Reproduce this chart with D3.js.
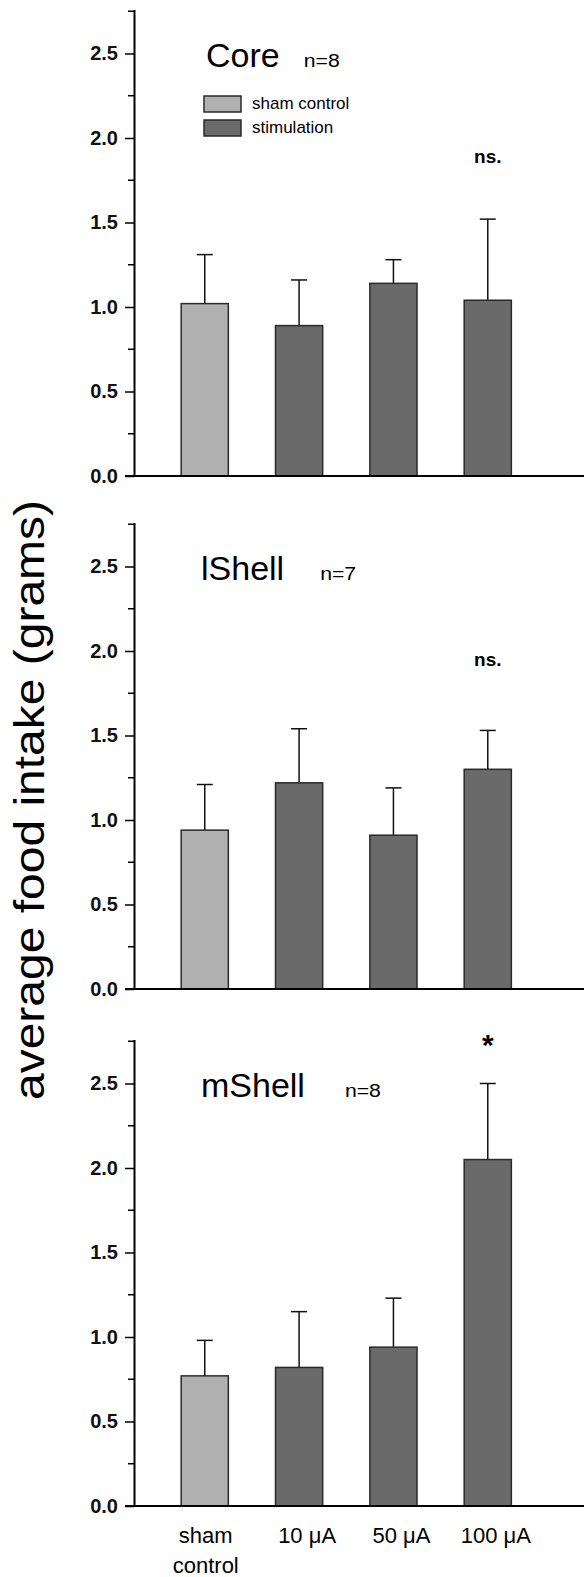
<!DOCTYPE html>
<html>
<head>
<meta charset="utf-8">
<script src="https://d3js.org/d3.v7.min.js"></script>
<style>
body { margin: 0; background: #fff; }
text { font-family: "Liberation Sans", Arial, sans-serif; }
</style>
</head>
<body>
<div id="chart"></div>
<script>
// data
var categories = ["sham control", "10 \u03bcA", "50 \u03bcA", "100 \u03bcA"];
var panelNames = ["Core", "lShell", "mShell"];
var panelN = ["n=8", "n=7", "n=8"];
var coreMean = [1.02, 0.89, 1.14, 1.04];
var coreSem = [0.29, 0.27, 0.14, 0.48];
var lShellMean = [0.94, 1.22, 0.91, 1.30];
var lShellSem = [0.27, 0.32, 0.28, 0.23];
var mShellMean = [0.77, 0.82, 0.94, 2.05];
var mShellSem = [0.21, 0.33, 0.29, 0.45];
var marks = ["ns.", "ns.", "*"];
var markY = [1.89, 1.95, 2.80];
var yTicks = [0, 0.5, 1.0, 1.5, 2.0, 2.5];
var legendLabels = ["sham control", "stimulation"];

var panels = [
  {name: panelNames[0], n: panelN[0], mean: coreMean, sem: coreSem, mark: marks[0], markY: markY[0], zero: 476, tx: 206, nGap: 24},
  {name: panelNames[1], n: panelN[1], mean: lShellMean, sem: lShellSem, mark: marks[1], markY: markY[1], zero: 989, tx: 201, nGap: 36},
  {name: panelNames[2], n: panelN[2], mean: mShellMean, sem: mShellSem, mark: marks[2], markY: markY[2], zero: 1506, tx: 201, nGap: 40}
];

var width = 584, height = 1577;
var unit = 169; // px per gram
var yMax = 2.76;
var colors = ["#b0b0b0", "#6a6a6a"];

var svg = d3.select("#chart")
  .append("svg")
    .attr("width", width)
    .attr("height", height);

// x positions: categories at 1..4
var x = d3.scaleLinear()
  .domain([0.25, 5.02])
  .range([134, 584]);
var barW = x(1.25) - x(0.75);

panels.forEach(function(p, pi) {
  var y = d3.scaleLinear()
    .domain([0, yMax])
    .range([p.zero, p.zero - yMax * unit]);

  var g = svg.append("g");

  // y axis with major labels
  var yAxis = d3.axisLeft(y)
    .tickValues(yTicks)
    .tickFormat(d3.format(".1f"))
    .tickSize(9)
    .tickSizeOuter(0)
    .tickPadding(7);
  var ya = g.append("g")
    .attr("transform", "translate(" + x(0.25) + ",0)")
    .call(yAxis);
  ya.select(".domain").attr("stroke-width", 2);
  ya.selectAll(".tick line").attr("stroke-width", 1.5);
  ya.selectAll(".tick text")
    .attr("font-size", 20)
    .attr("font-weight", "bold")
    .attr("font-family", "Liberation Sans, Arial, sans-serif")
    .attr("fill", "#111");

  // minor ticks
  var minor = d3.range(0.25, 2.76, 0.5);
  g.selectAll(".minor")
    .data(minor)
    .enter()
    .append("line")
      .attr("x1", x(0.25) - 6)
      .attr("x2", x(0.25))
      .attr("y1", function(d) { return y(d); })
      .attr("y2", function(d) { return y(d); })
      .attr("stroke", "#000")
      .attr("stroke-width", 1.5);

  // error bars (upper only)
  g.selectAll(".err")
    .data(p.mean)
    .enter()
    .append("line")
      .attr("x1", function(d, i) { return x(i + 1); })
      .attr("x2", function(d, i) { return x(i + 1); })
      .attr("y1", function(d) { return y(d); })
      .attr("y2", function(d, i) { return y(d + p.sem[i]); })
      .attr("stroke", "#111")
      .attr("stroke-width", 1.5);
  g.selectAll(".cap")
    .data(p.mean)
    .enter()
    .append("line")
      .attr("x1", function(d, i) { return x(i + 1) - 8; })
      .attr("x2", function(d, i) { return x(i + 1) + 8; })
      .attr("y1", function(d, i) { return y(d + p.sem[i]); })
      .attr("y2", function(d, i) { return y(d + p.sem[i]); })
      .attr("stroke", "#111")
      .attr("stroke-width", 1.5);

  // bars
  g.selectAll(".bar")
    .data(p.mean)
    .enter()
    .append("rect")
      .attr("x", function(d, i) { return x(i + 1) - barW / 2; })
      .attr("y", function(d) { return y(d); })
      .attr("width", barW)
      .attr("height", function(d) { return y(0) - y(d); })
      .attr("fill", function(d, i) { return i == 0 ? colors[0] : colors[1]; })
      .attr("stroke", "#2a2a2a")
      .attr("stroke-width", 1.5);

  // x axis line
  g.append("line")
    .attr("x1", x(0.25) - 9)
    .attr("x2", width)
    .attr("y1", y(0))
    .attr("y2", y(0))
    .attr("stroke", "#000")
    .attr("stroke-width", 2);

  // title and n
  var title = g.append("text")
    .attr("x", p.tx)
    .attr("y", y(2.42))
    .attr("font-size", 34)
    .text(p.name);
  var tw = title.node().getComputedTextLength();
  g.append("text")
    .attr("x", p.tx + tw + p.nGap)
    .attr("y", y(2.42))
    .attr("font-size", 18)
    .attr("textLength", 36)
    .attr("lengthAdjust", "spacingAndGlyphs")
    .text(p.n);

  // significance mark
  g.append("text")
    .attr("x", x(4))
    .attr("y", y(p.markY))
    .attr("dy", p.mark == "*" ? "0.75em" : "0.35em")
    .attr("text-anchor", "middle")
    .attr("font-size", p.mark == "*" ? 30 : 19)
    .attr("font-weight", "bold")
    .text(p.mark);

  // legend in first panel
  if (pi == 0) {
    var lg = g.selectAll(".leg")
      .data(legendLabels)
      .enter()
      .append("g")
        .attr("transform", function(d, i) { return "translate(204," + (96 + i * 24) + ")"; });
    lg.append("rect")
      .attr("width", 37)
      .attr("height", 16)
      .attr("fill", function(d, i) { return colors[i]; })
      .attr("stroke", "#2a2a2a")
      .attr("stroke-width", 1.5);
    lg.append("text")
      .attr("x", 48)
      .attr("y", 13)
      .attr("font-size", 17)
      .text(function(d) { return d; });
  }
});

// category labels under the last panel
var bottom = panels[2].zero;
var lab = svg.selectAll(".cat")
  .data(categories)
  .enter()
  .append("text")
    .attr("x", function(d, i) { return x(i + 1) + (i == 0 ? 1 : 8); })
    .attr("y", bottom + 37)
    .attr("text-anchor", "middle")
    .attr("font-size", 22);
lab.each(function(d, i) {
  var t = d3.select(this);
  if (i == 0) {
    t.append("tspan").text("sham");
    t.append("tspan").attr("x", t.attr("x")).attr("dy", 30).text("control");
  } else {
    t.text(d);
  }
});

// shared y label
svg.append("text")
  .attr("transform", "translate(44,800) rotate(-90)")
  .attr("text-anchor", "middle")
  .attr("font-size", 42)
  .attr("textLength", 600)
  .attr("lengthAdjust", "spacingAndGlyphs")
  .text("average food intake (grams)");
</script>
</body>
</html>
